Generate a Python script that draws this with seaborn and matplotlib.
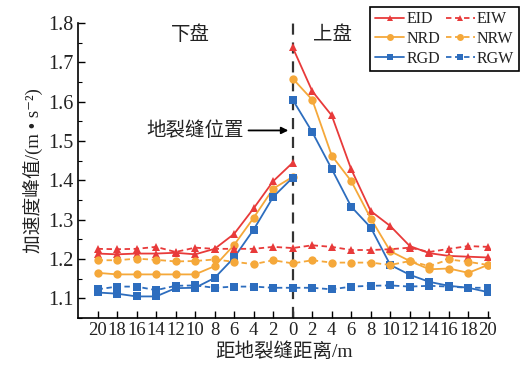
import matplotlib
matplotlib.use("Agg")
import matplotlib.pyplot as plt
import seaborn as sns
import pandas as pd
from matplotlib.lines import Line2D
from matplotlib.ticker import MultipleLocator

# ---------------- data ----------------
x_all = list(range(-20, 21, 2))
x_left = list(range(-20, 1, 2))
x_right = list(range(0, 21, 2))
tick_labels = [str(abs(v)) for v in x_all]

EID_left = [1.214, 1.212, 1.214, 1.214, 1.216, 1.212, 1.226, 1.264, 1.329, 1.398, 1.445]
EID_right = [1.738, 1.627, 1.565, 1.428, 1.322, 1.284, 1.233, 1.215, 1.208, 1.206, 1.204]
NRD_left = [1.165, 1.161, 1.161, 1.161, 1.161, 1.161, 1.182, 1.236, 1.305, 1.379, 1.409]
NRD_right = [1.659, 1.605, 1.463, 1.398, 1.303, 1.220, 1.195, 1.174, 1.176, 1.165, 1.185]
RGD_left = [1.115, 1.112, 1.105, 1.105, 1.126, 1.127, 1.152, 1.204, 1.275, 1.358, 1.407]
RGD_right = [1.605, 1.523, 1.429, 1.333, 1.280, 1.185, 1.160, 1.142, 1.132, 1.127, 1.116]
EIW = [1.226, 1.225, 1.226, 1.231, 1.218, 1.229, 1.226, 1.226, 1.226, 1.231, 1.228,
       1.235, 1.231, 1.223, 1.223, 1.225, 1.229, 1.218, 1.226, 1.233, 1.231]
NRW = [1.197, 1.197, 1.201, 1.198, 1.194, 1.195, 1.199, 1.193, 1.187, 1.197, 1.189,
       1.197, 1.191, 1.191, 1.191, 1.185, 1.195, 1.182, 1.199, 1.193, 1.185]
RGW = [1.123, 1.130, 1.130, 1.121, 1.132, 1.133, 1.127, 1.130, 1.130, 1.127, 1.127,
       1.127, 1.123, 1.130, 1.132, 1.133, 1.130, 1.132, 1.130, 1.127, 1.127]

# ---------------- style ----------------
sns.set_theme(style="ticks")
FAM = ["Liberation Serif", "Noto Sans CJK SC", "DejaVu Serif"]
plt.rcParams["font.family"] = FAM
plt.rcParams["axes.unicode_minus"] = False

RED = "#E83A3A"
ORANGE = "#F5A83A"
BLUE = "#2D6DBE"
TXT = "#222222"

fig = plt.figure(figsize=(5.2, 3.72), dpi=100)
ax = fig.add_axes([0.150, 0.145, 0.792, 0.793])

lw = 1.3
ms = 6
dash = (3, 2)

solid = [("EID", EID_left, EID_right, RED, "^"),
         ("NRD", NRD_left, NRD_right, ORANGE, "o"),
         ("RGD", RGD_left, RGD_right, BLUE, "s")]
wet = [("EIW", EIW, RED, "^"),
       ("NRW", NRW, ORANGE, "o"),
       ("RGW", RGW, BLUE, "s")]

handles = []
for name, yl, yr, c, m in solid:
    for xs, ys in ((x_left, yl), (x_right, yr)):
        df = pd.DataFrame({"x": xs, "y": ys})
        sns.lineplot(data=df, x="x", y="y", ax=ax, color=c, marker=m,
                     markersize=ms, markeredgewidth=0, linewidth=lw, zorder=3)
    handles.append(Line2D([], [], color=c, marker=m, markersize=5,
                          markeredgewidth=0, linewidth=lw, label=name))
for name, ys, c, m in wet:
    df = pd.DataFrame({"x": x_all, "y": ys})
    sns.lineplot(data=df, x="x", y="y", ax=ax, color=c, marker=m,
                 markersize=ms, markeredgewidth=0, linewidth=lw,
                 dashes=False, zorder=3)
    ax.lines[-1].set_dashes(dash)
    handles.append(Line2D([], [], color=c, marker=m, markersize=5,
                          markeredgewidth=0, linewidth=lw,
                          dashes=dash, label=name))

ax.axvline(0, color="#333333", linewidth=1.6, dashes=(5, 3.5), zorder=2)

ax.set_xlim(-22, 20.2)
ax.set_xticks(x_all)
ax.set_xticklabels(tick_labels)
ax.yaxis.set_major_locator(MultipleLocator(0.1))
ax.yaxis.set_minor_locator(MultipleLocator(0.05))
ax.set_ylim(1.05, 1.8)
ax.set_yticks([1.1, 1.2, 1.3, 1.4, 1.5, 1.6, 1.7, 1.8])
ax.set_yticklabels(["1.1", "1.2", "1.3", "1.4", "1.5", "1.6", "1.7", "1.8"])
ax.set_ylim(1.05, 1.8)

ax.tick_params(axis="both", which="both", direction="in", color="black")
ax.tick_params(axis="both", which="major", length=5, width=1.0)
ax.tick_params(axis="y", which="minor", length=3, width=0.8)
ax.tick_params(axis="x", labelsize=13.5, pad=3)
ax.tick_params(axis="y", labelsize=14.5, pad=3)
for lab in ax.get_xticklabels() + ax.get_yticklabels():
    lab.set_color(TXT)

sns.despine(ax=ax)
for s in ("left", "bottom"):
    ax.spines[s].set_color("black")
    ax.spines[s].set_linewidth(1.2)

ax.set_xlabel("距地裂缝距离/m", fontsize=14, family=FAM, color=TXT, labelpad=2)
ax.set_ylabel("加速度峰值/(m • s⁻²)", fontsize=13.5, family=FAM, color=TXT, labelpad=4)

ax.text(-10.5, 1.77, "下盘", fontsize=14, family=FAM, ha="center", va="center", color=TXT)
ax.text(4.1, 1.77, "上盘", fontsize=14, family=FAM, ha="center", va="center", color=TXT)
ax.annotate("地裂缝位置", xy=(-0.45, 1.527), xytext=(-10.0, 1.527),
            fontsize=14, family=FAM, ha="center", va="center", color=TXT,
            arrowprops=dict(arrowstyle="-|>", color="black", lw=1.3,
                            shrinkA=1, shrinkB=0, mutation_scale=10))

leg = ax.legend(handles=handles, ncol=2, loc="upper right",
                bbox_to_anchor=(0.998, 0.982), bbox_transform=fig.transFigure,
                frameon=True, fancybox=False, fontsize=11.5,
                handlelength=1.8, handletextpad=0.15, columnspacing=0.35,
                labelspacing=0.22, borderpad=0.3, borderaxespad=0)
leg.get_frame().set_edgecolor("black")
leg.get_frame().set_linewidth(1.2)
leg.get_frame().set_alpha(1)
for t in leg.get_texts():
    t.set_color(TXT)

fig.savefig("out.png", dpi=100)
